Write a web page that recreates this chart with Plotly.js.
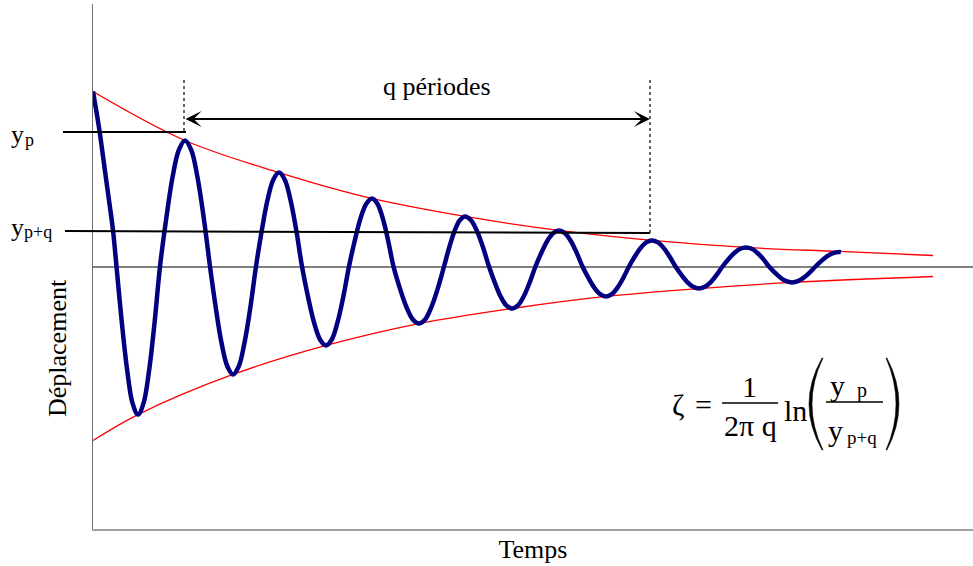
<!DOCTYPE html>
<html><head><meta charset="utf-8">
<script src="https://cdn.plot.ly/plotly-3.0.1.min.js"></script>
<style>html,body{margin:0;padding:0;background:#fff}#chart{width:973px;height:566px}</style>
</head><body><div id="chart"></div>
<script>
// Damped oscillation (time in arbitrary units, displacement relative to the first amplitude)
const time = [0, 3.4, 6.7, 10, 13.3, 16.7, 20, 23.5,
  28.9, 34.3, 39.6, 45, 50.5, 56, 61.5, 67,
  73.3, 79.5, 85.8, 92, 98.3, 104.5, 110.8, 117,
  122.8, 128.5, 134.3, 140, 145.8, 151.5, 157.3, 163,
  168.8, 174.5, 180.3, 186, 191.8, 197.5, 203.3, 209,
  215, 221, 227, 233, 238.8, 244.5, 250.3, 256,
  261.8, 267.5, 273.3, 279, 284.4, 289.8, 295.1, 300.5,
  306.9, 313.3, 319.6, 326, 332.3, 338.5, 344.8, 351,
  356.3, 361.5, 366.8, 372, 378, 384, 390, 396,
  401.8, 407.5, 413.3, 419, 424.9, 430.8, 436.6, 442.5,
  448.4, 454.3, 460.1, 466, 471.9, 477.8, 483.6, 489.5,
  495.4, 501.3, 507.1, 513, 518.8, 524.5, 530.3, 536,
  541.8, 547.5, 553.3, 559, 564.9, 570.8, 576.6, 582.5,
  588.4, 594.3, 600.1, 606, 611.9, 617.8, 623.6, 629.5,
  635.4, 641.3, 647.1, 653, 658.8, 664.5, 670.3, 676,
  681.8, 687.5, 693.3, 699, 704.9, 710.8, 716.6, 722.5,
  728.4, 734.3, 740.1, 746, 748];
const displacement = [1.0, 0.886, 0.767, 0.63, 0.49, 0.35, 0.207, 0,
  -0.324, -0.598, -0.782, -0.846, -0.782, -0.598, -0.324, 0,
  0.276, 0.509, 0.665, 0.72, 0.665, 0.509, 0.276, 0,
  -0.236, -0.436, -0.570, -0.617, -0.570, -0.436, -0.236, 0,
  0.206, 0.380, 0.496, 0.537, 0.496, 0.380, 0.206, 0,
  -0.173, -0.319, -0.417, -0.451, -0.417, -0.319, -0.173, 0,
  0.149, 0.275, 0.359, 0.389, 0.359, 0.275, 0.149, 0,
  -0.125, -0.230, -0.301, -0.326, -0.301, -0.230, -0.125, 0,
  0.110, 0.202, 0.264, 0.286, 0.264, 0.202, 0.110, 0,
  -0.092, -0.170, -0.222, -0.240, -0.222, -0.170, -0.092, 0,
  0.079, 0.146, 0.190, 0.206, 0.190, 0.146, 0.079, 0,
  -0.065, -0.121, -0.158, -0.171, -0.158, -0.121, -0.065, 0,
  0.057, 0.105, 0.138, 0.149, 0.138, 0.105, 0.057, 0,
  -0.048, -0.089, -0.116, -0.126, -0.116, -0.089, -0.048, 0,
  0.042, 0.077, 0.101, 0.109, 0.101, 0.077, 0.042, 0,
  -0.035, -0.064, -0.084, -0.091, -0.084, -0.064, -0.035, 0,
  0.032, 0.059, 0.077, 0.083, 0.082];
const upperTime = [0, 92, 186, 279, 372, 466, 559, 653, 746, 840];
const upperEnvelope = [1.0, 0.72, 0.537, 0.389, 0.286, 0.206, 0.149, 0.109, 0.086, 0.063];
const lowerTime = [0, 45, 140, 233, 326, 419, 513, 606, 699, 840];
const lowerEnvelope = [-0.994, -0.846, -0.617, -0.451, -0.326, -0.24, -0.171, -0.126, -0.091, -0.057];
const xLabel = 'Temps';
const yLabel = 'Déplacement';
const spanLabel = 'q périodes';

const W = 973, H = 566, ML = 93, MR = 0, MT = 4, MB = 37;
const PW = W - ML - MR, PH = H - MT - MB;
const px = v => (v - ML) / PW;
const py = v => (H - MB - v) / PH;
const FONT = 'Liberation Serif, Times New Roman, serif';

function leftParen(xTop, yTop, yBot, xOut, xIn) {
  const ym = (yTop + yBot) / 2;
  const c1 = 2 * xOut - xTop, c2 = 2 * xIn - (xTop + 1);
  return 'M' + px(xTop) + ',' + py(yTop) + ' Q' + px(c1) + ',' + py(ym) + ' ' + px(xTop) + ',' + py(yBot) +
         ' L' + px(xTop + 1) + ',' + py(yBot) + ' Q' + px(c2) + ',' + py(ym) + ' ' + px(xTop + 1) + ',' + py(yTop) + ' Z';
}
function rightParen(xTop, yTop, yBot, xOut, xIn) {
  const ym = (yTop + yBot) / 2;
  const c1 = 2 * xOut - xTop, c2 = 2 * xIn - (xTop - 1);
  return 'M' + px(xTop) + ',' + py(yTop) + ' Q' + px(c1) + ',' + py(ym) + ' ' + px(xTop) + ',' + py(yBot) +
         ' L' + px(xTop - 1) + ',' + py(yBot) + ' Q' + px(c2) + ',' + py(ym) + ' ' + px(xTop - 1) + ',' + py(yTop) + ' Z';
}
function hline(x0, y0, x1, y1, w, color, dash) {
  return {type: 'line', xref: 'paper', yref: 'paper', x0: px(x0), y0: py(y0), x1: px(x1), y1: py(y1),
          line: {color: color || '#000', width: w, dash: dash || 'solid'}};
}
function txt(text, x, y, size, xanchor) {
  return {text: text, xref: 'paper', yref: 'paper', x: px(x), y: py(y), showarrow: false,
          xanchor: xanchor || 'center', yanchor: 'middle', font: {family: FONT, size: size, color: '#000'}};
}

const traces = [
  {x: upperTime, y: upperEnvelope, mode: 'lines', line: {color: '#ff0000', width: 1.3, shape: 'spline', smoothing: 1}, hoverinfo: 'skip'},
  {x: lowerTime, y: lowerEnvelope, mode: 'lines', line: {color: '#ff0000', width: 1.3, shape: 'spline', smoothing: 1}, hoverinfo: 'skip'},
  {x: time, y: displacement, mode: 'lines', line: {color: '#000080', width: 4.5, shape: 'spline', smoothing: 1}}
];

const layout = {
  width: W, height: H, margin: {l: ML, r: MR, t: MT, b: MB},
  paper_bgcolor: '#fff', plot_bgcolor: '#fff', showlegend: false,
  font: {family: FONT, color: '#000'},
  xaxis: {range: [0, 880], showgrid: false, zeroline: false, showticklabels: false, ticks: '',
          showline: true, linecolor: '#a0a0a0', linewidth: 2,
          title: {text: xLabel, font: {family: FONT, size: 26, color: '#000'}, standoff: 10}},
  yaxis: {range: [-1.5, 1.5], showgrid: false, zeroline: true, zerolinecolor: '#808080', zerolinewidth: 2,
          showticklabels: false, ticks: '', showline: true, linecolor: '#707070', linewidth: 1.5},
  shapes: [
    hline(63, 132, 186, 132, 2),
    hline(65, 231, 650, 233, 2),
    hline(184, 80, 184, 132, 1.5, '#333', 'dot'),
    hline(650, 80, 650, 233, 1.5, '#333', 'dot'),
    hline(722, 403, 778, 403, 1.5),
    hline(826, 402, 883, 402, 1.5),
    {type: 'path', xref: 'paper', yref: 'paper', path: leftParen(822, 358, 450, 809, 812), fillcolor: '#000', line: {width: 0.5, color: '#000'}},
    {type: 'path', xref: 'paper', yref: 'paper', path: rightParen(887, 358, 450, 899, 896), fillcolor: '#000', line: {width: 0.5, color: '#000'}}
  ],
  annotations: [
    {text: '', xref: 'paper', yref: 'paper', x: px(650), y: py(119), ax: -466, ay: 0, showarrow: true,
     arrowside: 'end+start', arrowhead: 3, startarrowhead: 3, arrowsize: 1.35, startarrowsize: 1.35, arrowwidth: 2, arrowcolor: '#000'},
    txt(spanLabel, 437, 86, 26),
    txt('y', 9, 135, 26, 'left'),
    txt('p', 23, 140, 18, 'left'),
    txt('y', 9, 227.5, 26, 'left'),
    txt('p+q', 22, 232, 18, 'left'),
    {text: yLabel, xref: 'paper', yref: 'paper', x: px(58), y: py(348), showarrow: false, textangle: -90,
     xanchor: 'center', yanchor: 'middle', font: {family: FONT, size: 26, color: '#000'}},
    txt('ζ', 678, 404, 30),
    txt('=', 703, 404, 30),
    txt('1', 749, 387, 30),
    txt('2π q', 750, 426, 30),
    txt('ln', 795, 410, 30),
    txt('y', 828, 385.5, 30, 'left'),
    txt('p', 855, 390, 20, 'left'),
    txt('y', 826, 430.5, 30, 'left'),
    txt('p+q', 845, 437.5, 19, 'left')
  ]
};

Plotly.newPlot('chart', traces, layout, {displayModeBar: false, staticPlot: true});
</script>
</body></html>
